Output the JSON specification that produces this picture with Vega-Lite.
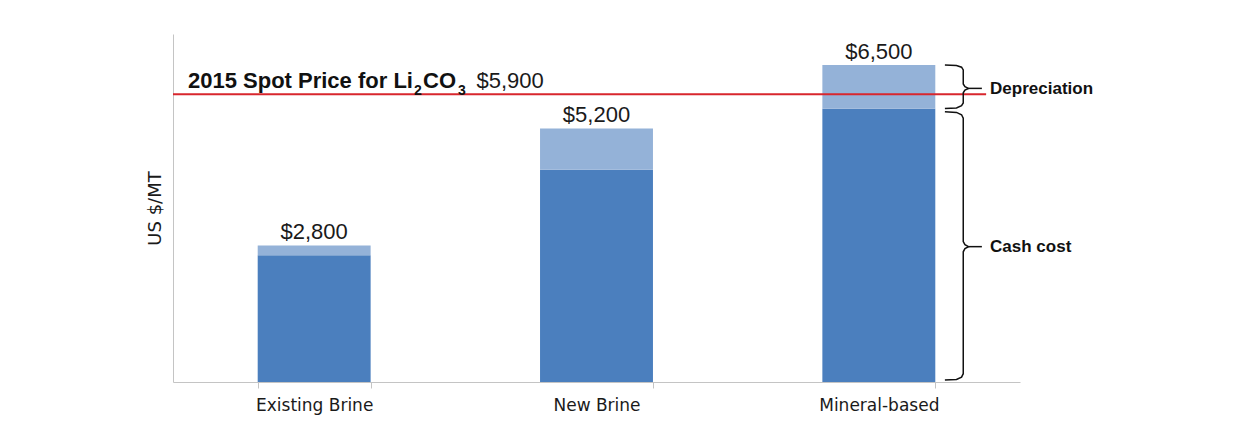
{
  "$schema": "https://vega.github.io/schema/vega-lite/v6.json",
  "width": 847,
  "height": 348,
  "autosize": {"type": "none"},
  "padding": {"left": 173, "top": 34, "right": 229, "bottom": 51},
  "background": "white",
  "config": {"view": {"stroke": null}, "axis": {"grid": false}},
  "datasets": {
    "costs": [
      {"source": "Existing Brine", "component": "Cash cost", "value": 2600},
      {"source": "Existing Brine", "component": "Depreciation", "value": 200},
      {"source": "New Brine", "component": "Cash cost", "value": 4350},
      {"source": "New Brine", "component": "Depreciation", "value": 850},
      {"source": "Mineral-based", "component": "Cash cost", "value": 5600},
      {"source": "Mineral-based", "component": "Depreciation", "value": 900}
    ],
    "totals": [
      {"source": "Existing Brine", "value": 2800},
      {"source": "New Brine", "value": 5200},
      {"source": "Mineral-based", "value": 6500}
    ],
    "spot": [
      {"value": 5900, "label": "2015 Spot Price for Li", "sub1": "2", "mid": "CO", "sub2": "3", "price_text": "$5,900"}
    ],
    "braces": [
      {"brace": "D", "i": 1, "bx": 2.734, "value": 6500},
      {"brace": "D", "i": 2, "bx": 2.775, "value": 6490},
      {"brace": "D", "i": 3, "bx": 2.793, "value": 6455},
      {"brace": "D", "i": 4, "bx": 2.799, "value": 6400},
      {"brace": "D", "i": 5, "bx": 2.799, "value": 6110},
      {"brace": "D", "i": 6, "bx": 2.805, "value": 6055},
      {"brace": "D", "i": 7, "bx": 2.818, "value": 6020},
      {"brace": "D", "i": 8, "bx": 2.805, "value": 5985},
      {"brace": "D", "i": 9, "bx": 2.799, "value": 5930},
      {"brace": "D", "i": 10, "bx": 2.799, "value": 5720},
      {"brace": "D", "i": 11, "bx": 2.793, "value": 5665},
      {"brace": "D", "i": 12, "bx": 2.775, "value": 5620},
      {"brace": "D", "i": 13, "bx": 2.734, "value": 5610},
      {"brace": "Dtip", "i": 1, "bx": 2.818, "value": 6020},
      {"brace": "Dtip", "i": 2, "bx": 2.865, "value": 6020},
      {"brace": "C", "i": 1, "bx": 2.734, "value": 5540},
      {"brace": "C", "i": 2, "bx": 2.775, "value": 5528},
      {"brace": "C", "i": 3, "bx": 2.793, "value": 5480},
      {"brace": "C", "i": 4, "bx": 2.799, "value": 5410},
      {"brace": "C", "i": 5, "bx": 2.799, "value": 2880},
      {"brace": "C", "i": 6, "bx": 2.805, "value": 2815},
      {"brace": "C", "i": 7, "bx": 2.818, "value": 2775},
      {"brace": "C", "i": 8, "bx": 2.805, "value": 2735},
      {"brace": "C", "i": 9, "bx": 2.799, "value": 2670},
      {"brace": "C", "i": 10, "bx": 2.799, "value": 170},
      {"brace": "C", "i": 11, "bx": 2.793, "value": 100},
      {"brace": "C", "i": 12, "bx": 2.775, "value": 52},
      {"brace": "C", "i": 13, "bx": 2.734, "value": 40},
      {"brace": "Ctip", "i": 1, "bx": 2.818, "value": 2775},
      {"brace": "Ctip", "i": 2, "bx": 2.865, "value": 2775}
    ],
    "braceLabels": [
      {"label": "Depreciation", "value": 6000},
      {"label": "Cash cost", "value": 2775}
    ]
  },
  "layer": [
    {
      "layer": [
        {
          "data": {"name": "costs"},
          "mark": {"type": "bar"},
          "encoding": {
            "x": {
              "field": "source", "type": "nominal",
              "sort": ["Existing Brine", "New Brine", "Mineral-based"],
              "scale": {"paddingInner": 0.6, "paddingOuter": 0.3},
              "axis": {
                "title": null, "labelAngle": 0,
                "labelFont": "DejaVu Sans", "labelFontSize": 17, "labelColor": "#1a1a1a",
                "labelPadding": 9,
                "domainColor": "#c4c4c4", "tickColor": "#c4c4c4", "tickSize": 6, "tickBand": "extent"
              }
            },
            "y": {
              "field": "value", "type": "quantitative", "stack": "zero",
              "scale": {"domain": [0, 7135], "nice": false},
              "axis": {
                "title": "US $/MT", "titleFont": "DejaVu Sans", "titleFontSize": 18,
                "titleFontWeight": "normal", "titleColor": "#1a1a1a", "titlePadding": 9,
                "labels": false, "ticks": false, "domainColor": "#c4c4c4"
              }
            },
            "color": {
              "field": "component", "type": "nominal",
              "scale": {"domain": ["Cash cost", "Depreciation"], "range": ["#4b7fbe", "#94b2d8"]},
              "legend": null
            },
            "order": {"field": "component", "sort": "ascending"}
          }
        },
        {
          "data": {"name": "totals"},
          "mark": {"type": "text", "font": "Liberation Sans", "fontSize": 22, "color": "#1a1a1a", "baseline": "alphabetic", "dy": -6},
          "encoding": {
            "x": {"field": "source", "type": "nominal", "sort": ["Existing Brine", "New Brine", "Mineral-based"]},
            "y": {"field": "value", "type": "quantitative", "scale": {"domain": [0, 7135], "nice": false}},
            "text": {"field": "value", "type": "quantitative", "format": "$,.0f"}
          }
        }
      ]
    },
    {
      "layer": [
        {
          "data": {"name": "spot"},
          "mark": {"type": "rule", "color": "#d8262d", "strokeWidth": 2},
          "encoding": {
            "x": {"datum": 0, "type": "quantitative", "scale": {"domain": [0, 3], "nice": false}, "axis": null},
            "x2": {"datum": 2.88},
            "y": {"field": "value", "type": "quantitative", "scale": {"domain": [0, 7135], "nice": false}}
          }
        },
        {
          "data": {"name": "spot"},
          "mark": {"type": "text", "font": "Liberation Sans", "fontSize": 22, "fontWeight": "bold", "color": "#111111", "align": "left", "baseline": "alphabetic", "dy": -6},
          "encoding": {
            "x": {"datum": 0.053, "type": "quantitative", "scale": {"domain": [0, 3], "nice": false}, "axis": null},
            "y": {"field": "value", "type": "quantitative", "scale": {"domain": [0, 7135], "nice": false}},
            "text": {"field": "label"}
          }
        },
        {
          "data": {"name": "spot"},
          "mark": {"type": "text", "font": "Liberation Sans", "fontSize": 14, "fontWeight": "bold", "color": "#111111", "align": "left", "baseline": "alphabetic", "dy": 1},
          "encoding": {
            "x": {"datum": 0.8536, "type": "quantitative", "scale": {"domain": [0, 3], "nice": false}, "axis": null},
            "y": {"field": "value", "type": "quantitative", "scale": {"domain": [0, 7135], "nice": false}},
            "text": {"field": "sub1"}
          }
        },
        {
          "data": {"name": "spot"},
          "mark": {"type": "text", "font": "Liberation Sans", "fontSize": 22, "fontWeight": "bold", "color": "#111111", "align": "left", "baseline": "alphabetic", "dy": -6},
          "encoding": {
            "x": {"datum": 0.8855, "type": "quantitative", "scale": {"domain": [0, 3], "nice": false}, "axis": null},
            "y": {"field": "value", "type": "quantitative", "scale": {"domain": [0, 7135], "nice": false}},
            "text": {"field": "mid"}
          }
        },
        {
          "data": {"name": "spot"},
          "mark": {"type": "text", "font": "Liberation Sans", "fontSize": 14, "fontWeight": "bold", "color": "#111111", "align": "left", "baseline": "alphabetic", "dy": 1},
          "encoding": {
            "x": {"datum": 1.0094, "type": "quantitative", "scale": {"domain": [0, 3], "nice": false}, "axis": null},
            "y": {"field": "value", "type": "quantitative", "scale": {"domain": [0, 7135], "nice": false}},
            "text": {"field": "sub2"}
          }
        },
        {
          "data": {"name": "spot"},
          "mark": {"type": "text", "font": "Liberation Sans", "fontSize": 22, "color": "#1a1a1a", "align": "left", "baseline": "alphabetic", "dy": -6},
          "encoding": {
            "x": {"datum": 1.075, "type": "quantitative", "scale": {"domain": [0, 3], "nice": false}, "axis": null},
            "y": {"field": "value", "type": "quantitative", "scale": {"domain": [0, 7135], "nice": false}},
            "text": {"field": "price_text"}
          }
        },
        {
          "data": {"name": "braces"},
          "mark": {"type": "line", "color": "#111111", "strokeWidth": 1.5},
          "encoding": {
            "x": {"field": "bx", "type": "quantitative", "scale": {"domain": [0, 3], "nice": false}, "axis": null},
            "y": {"field": "value", "type": "quantitative", "scale": {"domain": [0, 7135], "nice": false}},
            "detail": {"field": "brace"},
            "order": {"field": "i", "type": "quantitative"}
          }
        },
        {
          "data": {"name": "braceLabels"},
          "mark": {"type": "text", "font": "Liberation Sans", "fontSize": 17, "fontWeight": "bold", "color": "#111111", "align": "left", "baseline": "middle"},
          "encoding": {
            "x": {"datum": 2.894, "type": "quantitative", "scale": {"domain": [0, 3], "nice": false}, "axis": null},
            "y": {"field": "value", "type": "quantitative", "scale": {"domain": [0, 7135], "nice": false}},
            "text": {"field": "label"}
          }
        }
      ]
    }
  ],
  "resolve": {"scale": {"x": "independent"}, "axis": {"x": "independent"}}
}
